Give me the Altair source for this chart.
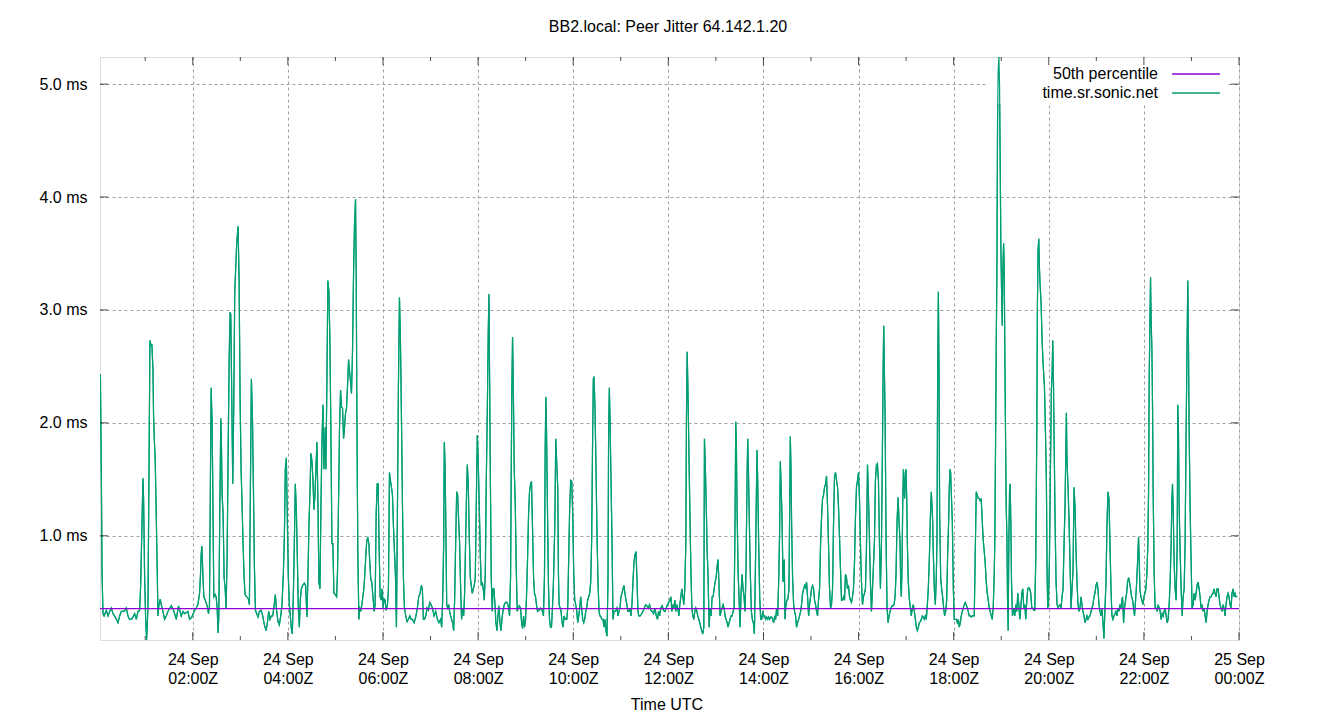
import altair as alt
import pandas as pd

TITLE = "BB2.local: Peer Jitter 64.142.1.20"
SERIES = "time.sr.sonic.net"
MEDIAN_LABEL = "50th percentile"
MEDIAN_MS = 0.355
X_TITLE = "Time UTC"

# x axis: minutes since 24 Sep 00:00Z
X_TICKS = [120, 240, 360, 480, 600, 720, 840, 960, 1080, 1200, 1320, 1440]
X_TICK_DAY = ["24 Sep"] * 11 + ["25 Sep"]
X_TICK_TIME = ["02:00Z", "04:00Z", "06:00Z", "08:00Z", "10:00Z", "12:00Z",
               "14:00Z", "16:00Z", "18:00Z", "20:00Z", "22:00Z", "00:00Z"]
X_MINOR = [60, 180, 300, 420, 540, 660, 780, 900, 1020, 1140, 1260, 1380]
Y_TICKS = [1, 2, 3, 4, 5]
Y_TICK_LABELS = ["1.0 ms", "2.0 ms", "3.0 ms", "4.0 ms", "5.0 ms"]

# (minute, jitter ms)
SEG_A = [(3.5,2.43),(4.7,1.54),(5.6,0.66),(6.8,0.31),(8.1,0.29),(11.0,0.34),(13.1,0.29),(15.2,0.33),(17.3,0.36),(19.4,0.31),(21.5,0.29),(23.6,0.26),(25.7,0.23),(27.8,0.29),(29.9,0.33),(33.3,0.33),(36.2,0.36),(38.3,0.29),(40.4,0.26),(42.5,0.26),(44.6,0.28),(46.7,0.31),(48.8,0.26),(50.9,0.33),(53.0,0.34),(54.3,0.56),(57.2,1.51),(58.0,1.33),(59.3,0.63),(60.6,0.26),(61.8,0.08),(63.5,0.36),(64.8,1.56),(66.0,2.73),(67.3,2.69),(68.5,2.69),(69.8,2.48),(70.6,2.06),(71.5,1.86),(72.7,1.66),(74.0,1.16),(75.3,0.66),(76.1,0.29),(77.4,0.39),(79.0,0.44),(80.3,0.39),(82.4,0.33),(84.5,0.26),(86.6,0.29),(88.7,0.33),(92.9,0.38),(95.8,0.34),(99.2,0.26),(102.1,0.38),(105.5,0.29),(107.6,0.33),(109.7,0.31),(113.9,0.33),(116.0,0.26),(118.9,0.28),(122.3,0.34),(124.4,0.36),(126.5,0.39),(128.6,0.49),(129.8,0.66),(130.6,0.83),(131.5,0.91),(132.8,0.66),(134.0,0.46),(135.7,0.43),(138.2,0.38),(139.9,0.31),(141.1,0.38)]
SEG_B = [(143.2,2.31),(144.5,1.99),(145.3,1.39),(146.6,0.46),(148.3,0.48),(149.5,0.46),(150.8,0.36),(152.0,0.14),(152.9,0.29),(154.1,1.19),(155.4,2.04),(156.2,1.81),(157.1,1.36),(158.3,1.19),(159.6,0.63),(160.9,0.53),(162.1,0.36),(163.4,0.83),(164.6,1.69),(165.9,2.54),(167.1,2.98),(168.0,2.96),(169.3,2.19),(170.5,1.46),(171.8,2.19),(173.0,3.16),(174.3,3.39),(175.5,3.59),(177.2,3.74),(178.5,3.26),(179.7,2.24),(181.0,1.59),(182.3,1.26),(183.5,0.93),(184.8,0.63),(186.0,0.48),(188.1,0.46),(190.2,0.44),(191.5,0.39),(192.8,1.46),(194.0,2.39),(195.3,2.06),(196.5,1.46),(197.8,0.73),(199.1,0.34),(200.7,0.31),(202.4,0.28),(204.1,0.33),(206.2,0.34),(208.3,0.29),(210.4,0.21),(212.5,0.16),(214.2,0.23),(215.8,0.33),(217.5,0.26),(219.2,0.29),(220.9,0.29),(222.6,0.38),(224.2,0.48),(225.9,0.33),(227.6,0.24),(229.3,0.21),(231.0,0.29),(232.6,0.39),(234.3,0.66),(235.6,0.99),(236.8,1.59),(238.1,1.69),(239.3,1.16),(240.6,0.63),(241.9,0.39),(243.1,0.29),(244.4,0.18),(245.6,0.13),(246.9,0.46),(248.2,0.93),(249.4,1.46),(250.7,1.23),(251.9,0.83),(253.2,0.36),(254.5,0.19),(255.7,0.43),(257.0,0.53),(258.7,0.56),(260.8,0.58),(262.4,0.56),(264.1,0.28),(265.4,0.66),(266.6,1.09),(267.9,1.39),(269.1,1.73),(270.4,1.66),(271.7,1.49),(272.9,1.23),(274.2,1.36),(275.4,1.59),(276.7,1.83),(278.0,1.26),(279.2,0.59),(280.5,0.53),(281.7,1.23),(283.0,1.83),(284.3,2.16),(285.5,1.59)]
SEG_C = [(287.2,1.96),(288.0,1.59),(289.3,2.39),(290.5,3.26),(291.8,3.16),(293.1,2.71),(294.3,1.93),(295.6,0.93),(296.8,0.93),(298.1,0.49),(299.8,0.48),(301.5,0.46),(302.7,0.69),(304.0,1.33),(305.2,1.96),(306.5,2.29),(307.7,2.14),(309.0,2.13),(310.3,1.86),(311.5,1.96),(312.8,2.09),(314.0,2.13),(315.3,2.33),(316.6,2.56),(317.8,2.46),(319.1,2.36),(320.3,2.26),(321.6,2.64),(322.9,3.33),(324.1,3.76),(325.4,3.98),(326.2,3.36),(327.1,2.09),(328.3,0.83),(329.6,0.26),(330.8,0.36),(332.1,0.34),(333.4,0.39),(334.6,0.46),(335.9,0.53),(337.1,0.66),(338.4,0.83),(339.6,0.96),(340.9,0.98),(342.2,0.93),(343.4,0.76),(344.7,0.61),(345.9,0.59),(347.6,0.44),(348.9,0.33),(350.1,0.39),(351.4,1.19),(352.7,1.46),(353.9,1.46),(355.2,0.89),(356.4,0.46),(357.7,0.43),(359.0,0.53),(360.2,0.36),(361.5,0.44),(362.7,0.43),(364.0,0.34),(365.7,0.39),(366.9,0.53),(368.2,1.56),(369.4,1.49),(370.7,1.43),(372.0,1.36),(373.2,1.09),(374.5,0.86),(375.7,0.66),(377.0,0.19),(378.3,1.26),(379.5,2.33),(380.8,3.11),(382.0,2.76),(383.3,2.06),(384.5,1.33),(385.8,0.63),(387.1,0.36),(388.8,0.29),(390.4,0.24),(392.1,0.26),(393.8,0.29),(395.5,0.26),(397.1,0.26),(399.2,0.23),(401.3,0.28),(403.4,0.36),(405.1,0.46),(406.8,0.49),(408.5,0.56),(409.7,0.53),(411.0,0.26),(412.3,0.26),(414.0,0.29),(415.6,0.36),(417.3,0.34),(419.0,0.41),(420.7,0.39),(422.4,0.36),(424.5,0.29),(426.6,0.33),(428.7,0.26),(430.7,0.23)]
SEG_D = [(432.8,0.26),(434.1,0.19),(435.3,0.43),(436.6,0.93),(437.4,1.83),(438.3,1.63),(439.1,1.23),(440.4,0.39),(441.6,0.36),(442.9,0.39),(444.1,0.33),(445.4,0.29),(446.6,0.26),(447.9,0.23),(449.2,0.16),(450.4,0.43),(451.7,0.93),(453.0,1.39),(454.2,1.36),(455.5,1.13),(456.7,0.93),(458.0,0.53),(459.2,0.26),(460.5,0.36),(461.8,0.29),(463.0,0.49),(464.3,0.96),(465.5,1.39),(466.4,1.63),(467.6,1.46),(468.9,0.99),(470.2,0.63),(471.4,0.56),(472.7,0.49),(473.9,0.53),(475.2,0.56),(476.5,0.63),(477.7,1.26),(479.0,1.89),(480.2,1.66),(481.5,1.26),(482.8,0.83),(484.0,0.56),(485.3,0.59),(486.5,0.53),(487.8,0.43),(489.1,0.66),(490.3,1.46),(491.6,2.09),(492.8,2.79),(493.7,3.14),(494.5,2.43),(495.4,1.59),(496.6,0.63),(497.9,0.33),(498.7,0.53),(500.0,0.53),(501.3,0.39),(502.5,0.23),(503.8,0.16),(505.0,0.29),(506.3,0.38),(507.6,0.23),(508.8,0.16),(510.1,0.26),(511.3,0.33),(513.0,0.39),(514.7,0.41),(516.4,0.41),(518.1,0.38),(519.7,0.29),(521.0,0.64),(521.8,1.53),(522.7,2.36),(523.5,2.76),(524.4,2.36),(525.6,1.59),(526.9,1.29),(528.1,0.73),(529.4,0.33),(530.7,0.36),(531.9,0.38),(533.6,0.36),(534.9,0.23),(536.1,0.18),(537.4,0.29),(538.6,0.19),(539.9,0.26),(541.1,0.46),(542.4,0.79),(543.7,1.19),(544.9,1.39),(546.2,1.46),(547.4,1.48),(548.7,1.06),(550.0,0.63),(551.2,0.49),(552.5,0.46),(553.7,0.39),(555.0,0.33),(556.7,0.34),(558.8,0.36),(560.9,0.34),(562.5,0.29),(563.8,0.66),(564.6,1.73),(565.5,2.23),(566.3,1.96),(567.5,1.26),(568.8,0.56),(570.1,0.26),(571.3,0.19),(572.6,0.19),(573.8,0.36),(575.1,0.59)]
SEG_E = [(576.8,1.09),(578.0,1.86),(579.3,1.63),(580.5,1.43),(581.4,0.66),(582.2,0.39),(583.5,0.36),(584.7,0.33),(586.0,0.23),(587.2,0.19),(588.5,0.29),(590.2,0.26),(591.9,0.26),(593.1,0.36),(594.4,0.83),(595.6,1.26),(596.9,1.49),(598.2,1.48),(599.4,1.19),(600.7,0.66),(601.9,0.43),(603.2,0.39),(604.5,0.33),(605.7,0.23),(607.0,0.29),(608.2,0.36),(609.5,0.46),(610.7,0.36),(612.0,0.26),(613.3,0.23),(614.5,0.26),(615.8,0.33),(617.0,0.36),(618.3,0.43),(619.6,0.46),(620.8,0.49),(622.1,0.59),(623.3,0.96),(624.6,1.93),(625.4,2.39),(626.3,2.41),(627.5,2.13),(628.8,1.59),(630.1,0.99),(631.3,0.59),(632.6,0.33),(633.8,0.29),(635.1,0.28),(636.4,0.26),(637.6,0.26),(638.9,0.19),(640.1,0.26),(641.4,0.16),(642.6,0.11),(643.9,0.59),(644.7,1.93),(645.6,2.31),(646.4,2.06),(647.7,1.49),(648.9,0.99),(650.2,0.26),(651.5,0.33),(652.7,0.33),(654.0,0.34),(655.2,0.36),(656.5,0.29),(657.8,0.33),(659.0,0.36),(660.3,0.46),(661.5,0.49),(662.8,0.53),(664.1,0.56),(665.3,0.49),(666.6,0.43),(667.8,0.39),(669.1,0.33),(670.4,0.33),(671.6,0.36),(672.9,0.29),(674.1,0.39),(675.4,0.59),(676.6,0.76),(677.9,0.83),(679.2,0.86),(680.4,0.63),(681.7,0.33),(682.9,0.29),(684.6,0.29),(686.3,0.31),(688.0,0.33),(689.7,0.36),(691.3,0.39),(693.0,0.38),(694.7,0.36),(696.4,0.39),(698.1,0.34),(699.7,0.33),(701.4,0.31),(703.1,0.36),(704.8,0.29),(706.4,0.26),(707.7,0.33),(709.0,0.29),(710.6,0.36),(712.3,0.38),(714.0,0.34),(715.7,0.33),(717.4,0.36),(719.0,0.39)]
SEG_F = [(722.0,0.43),(723.2,0.46),(724.5,0.33),(725.7,0.39),(727.0,0.36),(728.2,0.43),(729.5,0.33),(730.8,0.39),(732.0,0.36),(733.3,0.29),(734.5,0.39),(735.8,0.46),(737.1,0.53),(738.3,0.46),(739.6,0.39),(740.8,0.53),(742.1,0.93),(742.9,2.06),(743.8,2.63),(744.6,2.36),(745.9,1.79),(747.1,1.26),(748.4,0.73),(749.7,0.36),(750.9,0.29),(752.2,0.26),(753.4,0.33),(754.7,0.36),(756.0,0.33),(757.2,0.29),(758.5,0.26),(759.7,0.23),(761.0,0.19),(762.2,0.16),(763.5,0.13),(764.8,0.19),(765.6,1.86),(766.4,1.69),(767.7,1.33),(769.0,0.86),(770.2,0.63),(771.5,0.19),(772.7,0.36),(774.0,0.29),(775.3,0.46),(776.5,0.46),(777.8,0.53),(779.0,0.59),(780.3,0.63),(781.6,0.73),(782.8,0.79),(784.1,0.53),(785.3,0.29),(786.6,0.33),(787.9,0.36),(789.1,0.39),(790.4,0.36),(791.6,0.29),(792.9,0.26),(794.2,0.23),(795.4,0.19),(796.7,0.23),(797.9,0.26),(799.2,0.29),(800.5,0.29),(801.7,0.33),(803.0,0.36),(804.2,1.13),(805.1,2.01),(805.9,1.79),(806.7,1.26),(808.0,0.69),(809.3,0.43),(810.5,0.19),(811.8,0.49),(813.0,0.66),(814.3,0.53),(815.5,0.46),(816.8,0.33),(818.1,0.73),(819.3,1.49),(820.2,1.86),(821.0,1.63),(822.3,1.09),(823.5,0.66),(824.8,0.33),(826.0,0.26),(827.3,0.23),(828.6,0.13),(829.8,0.66),(831.1,1.36),(831.9,1.76),(832.8,1.49),(834.0,0.93),(835.3,0.46),(836.5,0.26),(837.8,0.26),(839.1,0.33),(840.3,0.29),(841.6,0.29),(842.8,0.26),(844.1,0.28),(845.4,0.26),(846.6,0.28),(847.9,0.26),(849.1,0.28),(850.4,0.28),(851.6,0.26),(852.9,0.23),(854.2,0.29),(855.4,0.26),(856.7,0.36),(858.0,0.29),(859.2,0.59),(860.5,1.06),(861.3,1.66),(862.1,1.49),(863.4,1.19),(864.7,0.59)]
SEG_G = [(866.3,0.79),(867.2,0.26),(868.4,0.39),(869.7,0.43),(870.9,0.44),(872.2,0.53),(873.0,1.13),(873.9,1.88),(874.7,1.63),(875.6,1.09),(876.8,0.63),(878.1,0.39),(879.3,0.33),(880.6,0.29),(881.8,0.19),(883.1,0.23),(884.4,0.26),(885.6,0.29),(886.9,0.33),(888.1,0.39),(889.4,0.49),(890.7,0.53),(891.9,0.56),(893.2,0.54),(894.4,0.59),(895.7,0.46),(897.0,0.29),(898.2,0.39),(899.5,0.46),(900.7,0.53),(902.0,0.56),(903.3,0.53),(904.5,0.43),(905.8,0.39),(907.0,0.33),(908.3,0.29),(909.5,0.43),(910.8,0.53),(912.1,0.93),(913.3,1.16),(914.6,1.33),(915.8,1.36),(917.1,1.43),(918.4,1.46),(919.6,1.53),(920.9,1.26),(922.1,0.93),(923.4,0.53),(924.7,0.36),(925.9,0.39),(927.2,0.53),(928.4,1.09),(929.7,1.53),(931.0,1.56),(932.2,1.49),(933.5,1.43),(934.7,1.26),(936.0,0.99),(937.3,0.69),(938.5,0.43),(939.8,0.43),(941.0,0.46),(942.3,0.43),(943.5,0.66),(944.8,0.63),(946.1,0.53),(947.3,0.56),(948.6,0.46),(949.8,0.43),(951.1,0.41),(952.4,0.46),(953.6,0.53),(954.9,0.76),(956.1,1.16),(957.4,1.43),(958.7,1.49),(959.9,1.56),(961.2,1.33),(962.4,0.93),(963.7,0.59),(965.0,0.39),(966.2,0.46),(967.5,0.49),(968.7,0.53),(970.0,0.89),(971.3,1.63),(972.5,1.36),(973.8,0.96),(975.0,0.59),(976.3,0.33),(977.6,0.53),(978.8,0.73),(980.1,0.96),(981.3,1.49),(982.6,1.63),(983.8,1.64),(985.1,1.49),(986.4,0.93),(987.6,0.53),(988.9,0.93),(990.1,1.73),(991.0,2.46),(991.8,2.86),(992.7,2.43),(993.5,2.06),(994.8,0.93),(996.0,0.36),(997.3,0.23),(998.5,0.29),(999.8,0.33),(1001.1,0.36),(1002.3,0.38),(1003.6,0.38),(1004.8,0.39),(1006.1,0.46),(1007.3,0.66),(1008.6,1.13),(1009.9,1.34)]
SEG_H = [(1011.1,1.13),(1012.4,0.93),(1013.2,0.56),(1014.0,0.46),(1014.9,0.76),(1015.7,1.26),(1016.6,1.59),(1017.4,1.43),(1018.2,1.33),(1019.1,1.56),(1019.9,1.59),(1020.8,1.33),(1021.6,0.93),(1022.8,0.59),(1024.1,0.44),(1025.4,0.36),(1026.6,0.29),(1027.9,0.36),(1029.1,0.39),(1030.4,0.33),(1031.7,0.26),(1032.9,0.19),(1034.2,0.16),(1035.4,0.19),(1036.7,0.23),(1038.0,0.24),(1039.2,0.26),(1040.5,0.29),(1041.7,0.28),(1043.0,0.26),(1044.3,0.29),(1045.5,0.26),(1046.8,0.39),(1048.0,0.53),(1049.3,0.79),(1050.6,1.16),(1051.8,1.39),(1052.7,1.26),(1053.5,1.13),(1054.4,0.83),(1055.6,0.53),(1056.9,0.39),(1058.1,0.63),(1059.0,0.99),(1059.8,2.43),(1060.7,3.16),(1061.5,2.49),(1062.3,1.23),(1063.6,0.63),(1064.9,0.53),(1066.1,0.46),(1067.4,0.36),(1068.6,0.29),(1069.9,0.33),(1071.2,0.43),(1072.4,0.83),(1073.7,1.13),(1074.5,1.43),(1075.4,1.59),(1076.2,1.56),(1077.0,1.39),(1078.3,1.13),(1079.6,0.53),(1080.8,0.26),(1082.1,0.26),(1083.3,0.26),(1084.6,0.23),(1085.9,0.26),(1087.1,0.19),(1088.4,0.23),(1089.6,0.29),(1090.9,0.33),(1092.2,0.36),(1093.4,0.39),(1094.7,0.41),(1095.9,0.39),(1097.2,0.36),(1098.4,0.33),(1099.7,0.29),(1101.0,0.29),(1102.2,0.28),(1103.4,0.29),(1104.7,0.29),(1106.0,0.29),(1107.2,0.83),(1108.5,1.39),(1109.8,1.36),(1111.0,1.33),(1112.3,1.33),(1113.5,1.31),(1114.8,1.33),(1116.1,1.13),(1117.3,0.96),(1118.6,0.86),(1119.8,0.76),(1121.1,0.59),(1122.4,0.49),(1123.6,0.43),(1124.9,0.36),(1126.1,0.33),(1127.4,0.29),(1128.6,0.26),(1129.9,0.36),(1131.2,0.66),(1132.0,0.99),(1132.9,1.86),(1133.7,2.66),(1134.6,3.39),(1135.4,4.69),(1136.2,5.13),(1137.1,5.24),(1137.9,4.99),(1138.8,4.23),(1139.6,3.53),(1140.4,3.19),(1141.3,2.86),(1142.1,3.36),(1143.0,3.59),(1143.8,3.39),(1144.6,2.59),(1145.5,1.86),(1146.3,1.26),(1147.2,0.99),(1148.0,0.43),(1148.8,0.16),(1149.6,0.93),(1150.5,1.39),(1151.3,1.46),(1152.2,1.09),(1153.0,0.59),(1154.2,0.29)]
SEG_I = [(1155.9,0.36),(1157.1,0.29),(1158.4,0.39),(1159.7,0.33),(1160.9,0.49),(1162.2,0.39),(1163.4,0.26),(1164.7,0.36),(1166.0,0.49),(1167.2,0.53),(1168.5,0.36),(1169.7,0.39),(1171.0,0.26),(1172.3,0.43),(1173.5,0.53),(1174.8,0.54),(1176.0,0.53),(1177.3,0.49),(1178.6,0.36),(1179.8,0.36),(1181.1,0.34),(1182.3,0.34),(1183.6,0.79),(1184.9,1.93),(1185.7,3.06),(1186.5,3.53),(1187.4,3.63),(1188.2,3.38),(1189.0,3.23),(1190.3,3.06),(1191.6,2.73),(1192.8,2.53),(1194.5,2.33),(1195.8,1.93),(1197.0,1.49),(1197.9,0.66),(1198.7,0.36),(1199.5,0.39),(1200.8,0.76),(1202.1,1.59),(1203.3,2.29),(1204.2,2.43),(1205.0,2.73),(1205.8,2.43),(1206.7,1.89),(1207.9,1.16),(1209.2,0.59),(1210.5,0.39),(1211.7,0.36),(1213.0,0.38),(1214.2,0.39),(1215.5,0.36),(1216.8,0.46),(1218.0,0.53),(1219.3,0.93),(1220.5,1.26),(1221.4,1.69),(1222.2,2.09),(1223.0,1.66),(1224.3,1.43),(1225.6,1.13),(1226.8,0.76),(1228.1,0.36),(1229.3,0.53),(1230.6,0.69),(1231.9,1.43),(1233.1,1.26),(1234.4,0.86),(1235.6,0.59),(1236.9,0.39),(1238.2,0.33),(1239.4,0.36),(1240.7,0.46),(1241.9,0.39),(1243.2,0.33),(1244.4,0.29),(1245.7,0.23),(1247.0,0.26),(1248.2,0.29),(1249.5,0.26),(1250.7,0.28),(1252.0,0.29),(1253.3,0.33),(1254.5,0.36),(1255.8,0.39),(1257.0,0.46),(1258.3,0.49),(1259.6,0.56),(1260.8,0.59),(1262.1,0.53),(1263.3,0.39),(1264.6,0.33),(1265.9,0.29),(1267.1,0.36),(1268.4,0.23),(1269.6,0.09),(1270.9,0.36),(1272.2,0.59),(1273.4,1.09),(1274.7,1.39),(1275.9,1.33),(1277.2,0.93),(1278.5,0.53),(1279.7,0.29),(1281.0,0.26),(1282.2,0.29),(1283.5,0.31),(1284.7,0.33),(1286.0,0.29),(1287.3,0.36),(1288.5,0.33),(1289.8,0.39),(1291.0,0.36),(1292.3,0.43)]
SEG_J = [(1293.1,0.46),(1294.4,0.23),(1295.6,0.36),(1296.9,0.43),(1298.2,0.49),(1299.4,0.59),(1300.7,0.63),(1301.9,0.59),(1303.2,0.53),(1304.5,0.46),(1305.7,0.43),(1307.0,0.36),(1308.2,0.29),(1309.5,0.43),(1310.7,0.56),(1312.0,0.76),(1313.3,0.99),(1314.1,0.79),(1315.0,0.53),(1316.2,0.46),(1317.5,0.43),(1318.7,0.39),(1320.0,0.46),(1321.2,0.49),(1322.5,0.53),(1323.8,0.66),(1325.0,0.93),(1325.9,1.39),(1326.7,2.39),(1327.5,2.83),(1328.4,3.29),(1329.2,2.89),(1330.1,2.66),(1330.9,2.16),(1331.7,1.39),(1333.0,0.66),(1334.2,0.36),(1335.5,0.36),(1336.8,0.33),(1338.0,0.39),(1339.3,0.36),(1340.5,0.33),(1341.8,0.26),(1343.1,0.31),(1344.3,0.29),(1345.6,0.33),(1346.8,0.36),(1348.1,0.29),(1349.4,0.23),(1350.6,0.26),(1351.9,0.39),(1353.1,0.59),(1354.4,0.93),(1355.2,1.29),(1356.1,1.46),(1356.9,1.26),(1358.2,0.76),(1359.4,0.53),(1360.7,0.43),(1362.0,0.93),(1362.8,2.16),(1363.6,1.93),(1364.5,1.26),(1365.7,0.86),(1367.0,0.53),(1368.3,0.29),(1369.5,0.46),(1370.8,0.53),(1372.0,0.93),(1373.3,1.93),(1374.6,2.76),(1375.4,3.26),(1376.2,2.76),(1377.1,1.93),(1378.3,1.26),(1379.6,0.76),(1380.8,0.36),(1382.1,0.39),(1383.4,0.49),(1384.6,0.43),(1385.9,0.49),(1387.1,0.56),(1388.4,0.59),(1389.7,0.53),(1390.9,0.46),(1392.2,0.36),(1393.4,0.39),(1394.7,0.33),(1395.9,0.36),(1397.2,0.29),(1398.5,0.23),(1399.7,0.33),(1401.0,0.39),(1402.2,0.43),(1403.5,0.46),(1404.8,0.46),(1406.0,0.48),(1407.3,0.49),(1408.5,0.53),(1409.8,0.49),(1411.1,0.46),(1412.3,0.53),(1413.6,0.53),(1414.8,0.46),(1416.1,0.39),(1417.3,0.36),(1418.6,0.33),(1419.9,0.39),(1421.1,0.36),(1422.4,0.29),(1423.6,0.39),(1424.9,0.46),(1426.2,0.49),(1427.4,0.46),(1428.7,0.39),(1429.9,0.36),(1431.2,0.49),(1432.5,0.53),(1433.7,0.46),(1435.0,0.49),(1436.2,0.46),(1437.9,0.46)]

PURPLE = "#9400d3"
GREEN = "#009e73"
FONT = "Liberation Sans"
W, H = 1139, 583

rows = []
for seg in (SEG_A, SEG_B, SEG_C, SEG_D, SEG_E, SEG_F, SEG_G, SEG_H, SEG_I, SEG_J):
    rows.extend(seg)
df = pd.DataFrame(rows, columns=["minute", "ms"]).sort_values("minute")

def js_list(items):
    return "[" + ",".join(repr(i) for i in items) + "]"

x_label_expr = ("[{d}[indexof({t}, datum.value)], {h}[indexof({t}, datum.value)]]"
                .format(d=js_list(X_TICK_DAY), h=js_list(X_TICK_TIME), t=js_list(X_TICKS)))
y_label_expr = "{l}[indexof({t}, datum.value)]".format(l=js_list(Y_TICK_LABELS), t=js_list(Y_TICKS))

XS = alt.Scale(domain=[3, 1440], nice=False, zero=False)
YS = alt.Scale(domain=[0.077, 5.24], nice=False, zero=False)
XAX = alt.Axis(values=X_TICKS, labelExpr=x_label_expr, grid=True, gridColor="#a0a0a0",
               gridDash=[3, 3], gridWidth=1, ticks=False, tickSize=0, domain=False,
               labelFont=FONT, labelFontSize=16, labelColor="black", labelPadding=11,
               labelLineHeight=19, labelBaseline="top", labelFlush=False,
               labelOverlap=False, labelBound=False, title=None)
YAX = alt.Axis(values=Y_TICKS, labelExpr=y_label_expr, grid=True, gridColor="#a0a0a0",
               gridDash=[3, 3], gridWidth=1, ticks=False, tickSize=0, domain=False,
               labelFont=FONT, labelFontSize=16, labelColor="black", labelPadding=13,
               labelOverlap=False, title=None)

def X():
    return alt.X("minute:Q", scale=XS, axis=XAX)

def Y():
    return alt.Y("ms:Q", scale=YS, axis=YAX)

one = pd.DataFrame({"k": [0]})

key_bg = alt.Chart(one).mark_rect(color="white").encode(
    x=alt.value(888), x2=alt.value(1126), y=alt.value(1), y2=alt.value(47))

line = alt.Chart(df).mark_line(color=GREEN, strokeWidth=1.2, clip=True).encode(x=X(), y=Y())

median = alt.Chart(pd.DataFrame({"ms": [MEDIAN_MS]})).mark_rule(
    color=PURPLE, strokeWidth=1.3).encode(y=Y())

xmaj = pd.DataFrame({"minute": X_TICKS})
xmin = pd.DataFrame({"minute": X_MINOR})
ytk = pd.DataFrame({"ms": Y_TICKS})

tick_layers = [
    alt.Chart(xmaj).mark_tick(orient="vertical", size=8, thickness=1, color="black").encode(x=X(), y=alt.value(H - 4)),
    alt.Chart(xmaj).mark_tick(orient="vertical", size=8, thickness=1, color="black").encode(x=X(), y=alt.value(4)),
    alt.Chart(xmin).mark_tick(orient="vertical", size=4, thickness=1, color="black").encode(x=X(), y=alt.value(H - 2)),
    alt.Chart(xmin).mark_tick(orient="vertical", size=4, thickness=1, color="black").encode(x=X(), y=alt.value(2)),
    alt.Chart(ytk).mark_tick(orient="horizontal", size=8, thickness=1, color="black").encode(y=Y(), x=alt.value(4)),
    alt.Chart(ytk).mark_tick(orient="horizontal", size=8, thickness=1, color="black").encode(y=Y(), x=alt.value(W - 4)),
]

def txt(s, x, y, align="center"):
    return alt.Chart(pd.DataFrame({"s": [s]})).mark_text(
        font=FONT, fontSize=16, color="black", align=align, baseline="middle").encode(
        text="s:N", x=alt.value(x), y=alt.value(y))

key_med_text = txt(MEDIAN_LABEL, 1058, 17, "right")
key_ser_text = txt(SERIES, 1058, 36, "right")
key_med_line = alt.Chart(one).mark_rule(color=PURPLE, strokeWidth=1.3).encode(
    x=alt.value(1072), x2=alt.value(1120), y=alt.value(17))
key_ser_line = alt.Chart(one).mark_rule(color=GREEN, strokeWidth=1.3).encode(
    x=alt.value(1072), x2=alt.value(1120), y=alt.value(36))

title = txt(TITLE, 568, -30)
xtitle = txt(X_TITLE, 567, 648)

chart = alt.layer(
    line.encode(), key_bg, line, median, *tick_layers,
    key_med_text, key_ser_text, key_med_line, key_ser_line, title, xtitle,
).properties(
    width=W, height=H,
    autosize=alt.AutoSizeParams(type="none"),
    padding={"left": 92, "top": 49, "right": 80, "bottom": 72},
).configure_view(
    stroke="black", strokeWidth=1
).configure(font=FONT, background="white")

chart.save("out.html", embed_options={"renderer": "svg", "actions": False})
